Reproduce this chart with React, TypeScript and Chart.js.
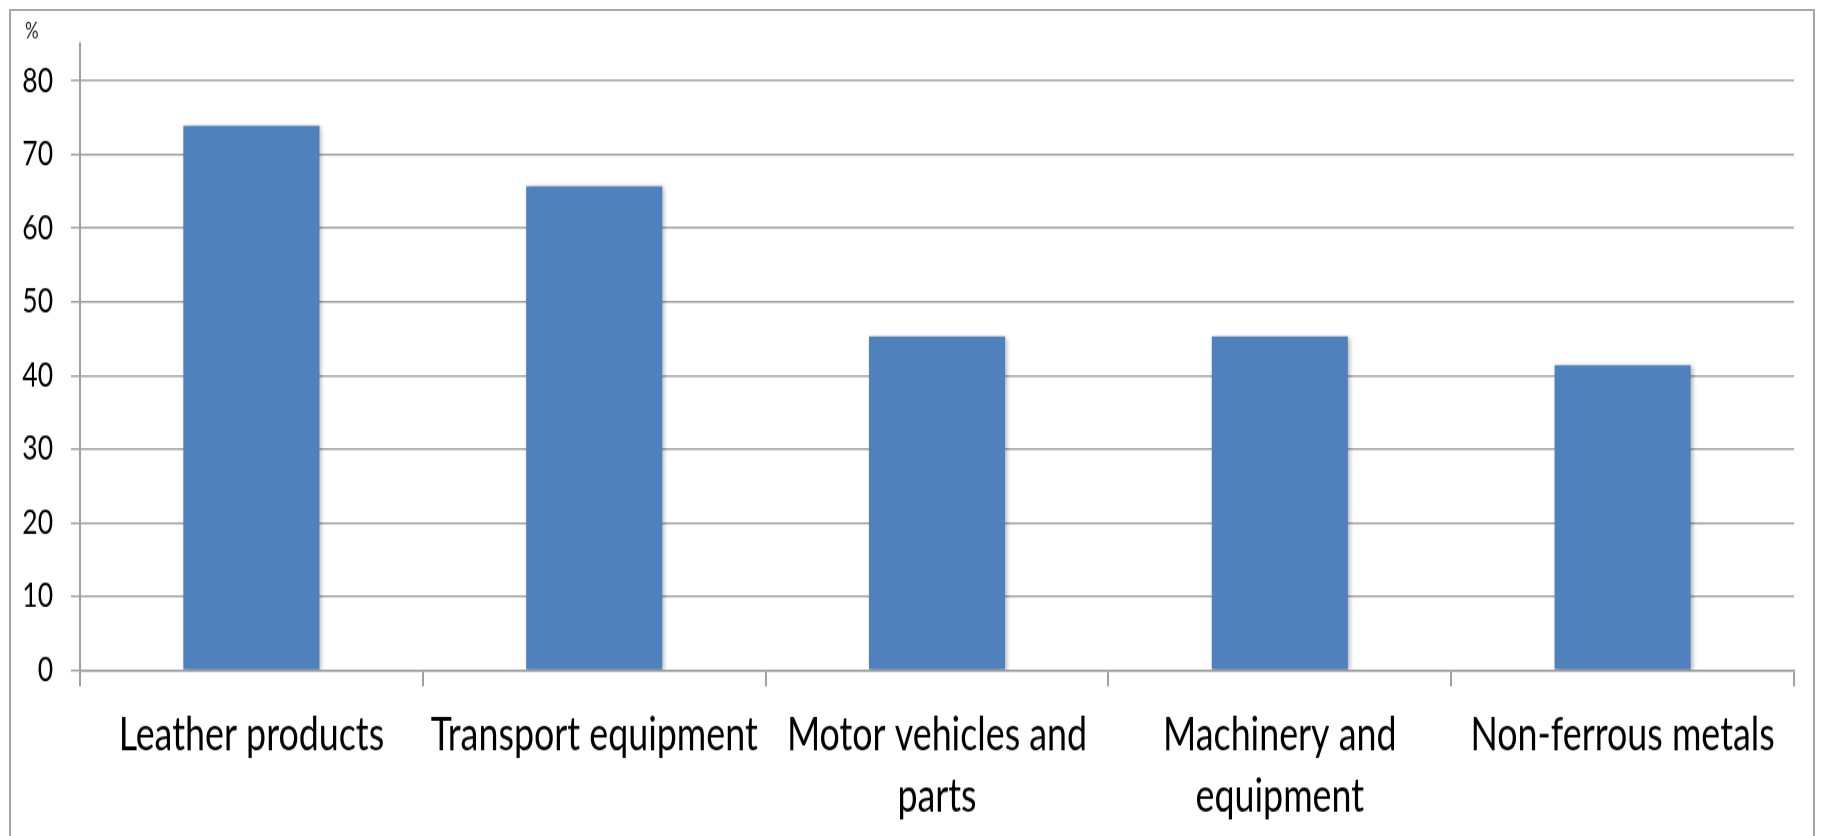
import React, { useEffect, useRef } from 'react';
import { Chart, registerables } from 'chart.js';

Chart.register(...registerables);

// Share of output by industry, in percent
const categories: (string | string[])[] = [
  'Leather products',
  'Transport equipment',
  ['Motor vehicles and', 'parts'],
  ['Machinery and', 'equipment'],
  'Non-ferrous metals',
];
const shares = [73.9, 65.7, 45.3, 45.3, 41.4];
const yStep = 10;
const yMax = 85;
const yUnit = '%';

// Page geometry; the canvas is drawn shorter and stretched vertically with CSS
const PAGE_W = 1821;
const PAGE_H = 836;
const STRETCH = 1.28;
const CANVAS_H = Math.round(PAGE_H / STRETCH);

const AXIS_GREY = '#a0a0a0';
const BAR_BLUE = '#4F81BD';

const barShadow = {
  id: 'barShadow',
  beforeDatasetsDraw(chart: any) {
    const ctx = chart.ctx;
    ctx.save();
    ctx.shadowColor = 'rgba(0,0,0,0.28)';
    ctx.shadowBlur = 4;
    ctx.shadowOffsetX = 2;
    ctx.shadowOffsetY = 1;
  },
  afterDatasetsDraw(chart: any) {
    chart.ctx.restore();
  },
};

const unitLabel = {
  id: 'unitLabel',
  afterDraw(chart: any) {
    const ctx = chart.ctx;
    ctx.save();
    ctx.fillStyle = '#222';
    ctx.font = '17px Lato';
    ctx.textAlign = 'left';
    ctx.textBaseline = 'middle';
    ctx.fillText(yUnit, 25, 24.6);
    ctx.restore();
  },
};

export default function App() {
  const canvasRef = useRef<HTMLCanvasElement>(null);

  useEffect(() => {
    const canvas = canvasRef.current;
    if (!canvas) return;
    const chart = new Chart(canvas, {
      type: 'bar',
      data: {
        labels: categories,
        datasets: [
          {
            data: shares,
            backgroundColor: BAR_BLUE,
            borderWidth: 0,
            categoryPercentage: 1,
            barPercentage: 0.397,
          },
        ],
      },
      options: {
        responsive: false,
        animation: false,
        devicePixelRatio: 1,
        layout: { padding: { left: 0, top: 34.4, right: 27, bottom: 0 } },
        plugins: {
          legend: { display: false },
          tooltip: { enabled: false },
        },
        scales: {
          x: {
            grid: {
              offset: true,
              drawOnChartArea: false,
              drawTicks: true,
              tickLength: 12.5,
              color: AXIS_GREY,
              lineWidth: 2,
            },
            border: { display: true, color: AXIS_GREY, width: 1.5 },
            ticks: {
              autoSkip: false,
              maxRotation: 0,
              minRotation: 0,
              padding: 14,
              color: '#000',
              font: { family: 'Lato', size: 35.8, lineHeight: 1.352 },
            },
            afterFit: (s: any) => {
              s.height = 129.6;
            },
          },
          y: {
            min: 0,
            max: yMax,
            border: { display: true, color: AXIS_GREY, width: 2 },
            grid: { color: AXIS_GREY, lineWidth: 1.5, tickLength: 9 },
            ticks: {
              stepSize: yStep,
              includeBounds: false,
              padding: 18,
              color: '#000',
              font: { family: 'Lato', size: 26.5 },
            },
            afterFit: (s: any) => {
              s.width = 80;
            },
          },
        },
      } as any,
      plugins: [barShadow, unitLabel],
    });
    return () => chart.destroy();
  }, []);

  return (
    <div
      style={{
        position: 'fixed',
        left: 0,
        top: 0,
        width: PAGE_W,
        height: PAGE_H,
        overflow: 'hidden',
        background: '#fff',
      }}
    >
      <div
        style={{
          position: 'absolute',
          left: 9,
          top: 9,
          width: 1806,
          height: 900,
          border: '2px solid #a8a8a8',
          boxSizing: 'border-box',
        }}
      />
      <canvas
        ref={canvasRef}
        width={PAGE_W}
        height={CANVAS_H}
        style={{ position: 'absolute', left: 0, top: 0, width: PAGE_W, height: PAGE_H }}
      />
    </div>
  );
}
